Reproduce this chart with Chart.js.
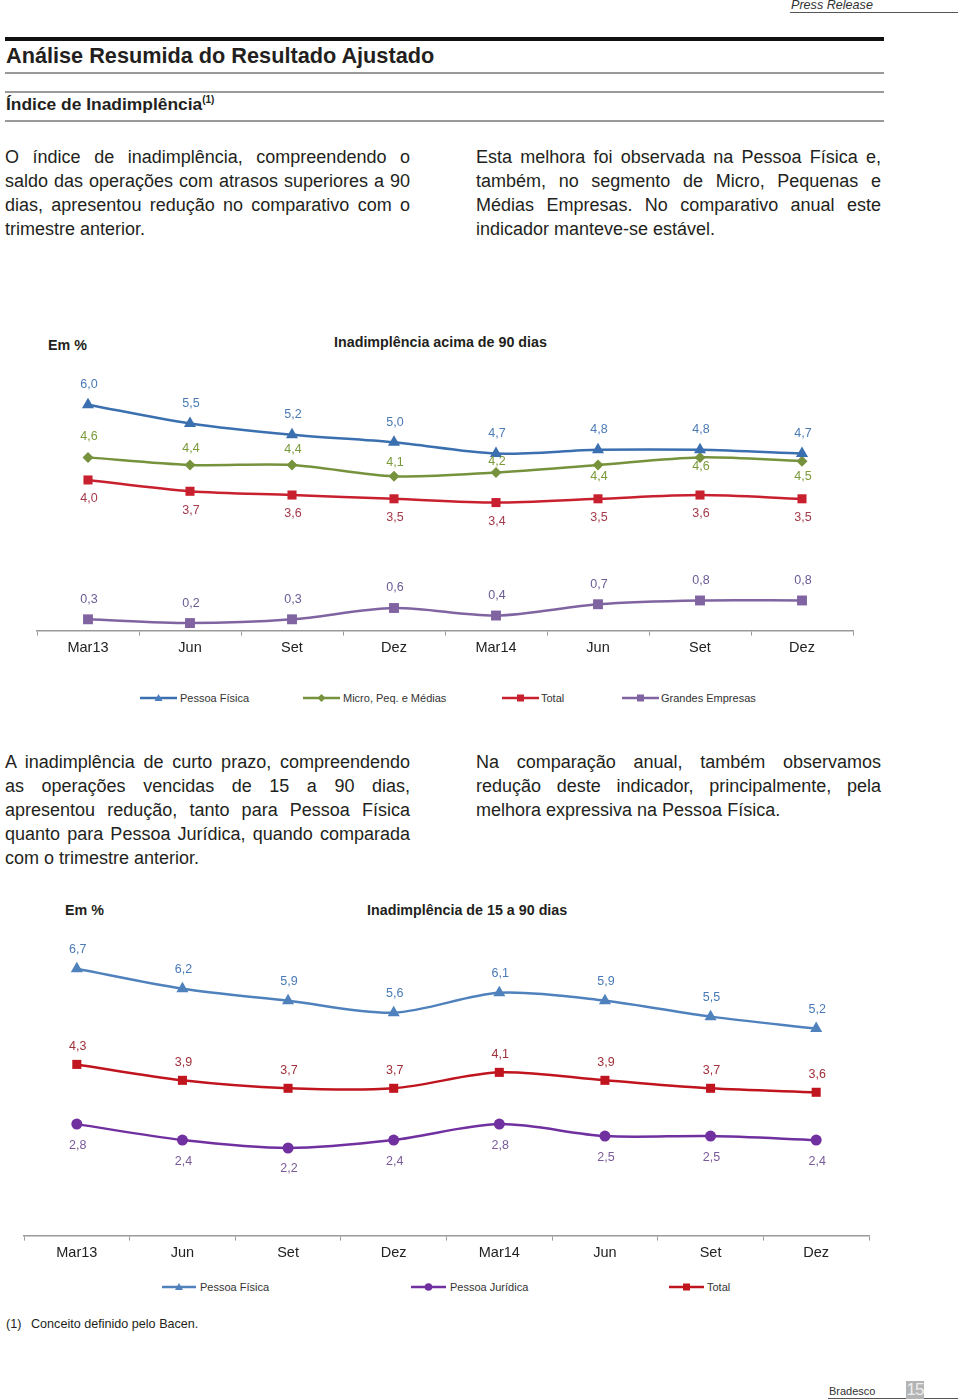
<!DOCTYPE html>
<html lang="pt">
<head>
<meta charset="utf-8">
<title>Índice de Inadimplência</title>
<script src="https://cdn.jsdelivr.net/npm/chart.js@4.4.1/dist/chart.umd.min.js"></script>
<style>
  body { margin: 0; width: 960px; height: 1400px; position: relative; background: #fff;
         font-family: "Liberation Sans", Arial, sans-serif; color: #231f20; overflow: hidden; }
  .abs { position: absolute; white-space: nowrap; }
  .regua { position: absolute; left: 5px; width: 879px; height: 2px; background: #9a9a9a; }
  .par { position: absolute; width: 405px; font-size: 18px; line-height: 24px; }
  .par div { text-align: justify; text-align-last: justify; white-space: nowrap; }
  .par div.ult { text-align-last: left; }
  .emp { font-weight: bold; font-size: 14.3px; line-height: 18px; }
  .leg { position: absolute; font-size: 11px; line-height: 12px; color: #333; white-space: nowrap; }
  .leg svg { position: absolute; top: 1px; }
  canvas { position: absolute; left: 0; }
</style>
</head>
<body>

<div class="abs" style="left:791px; top:-2px; font-size:12.6px; font-style:italic; color:#333;">Press Release</div>
<div class="abs" style="left:790px; top:12px; width:168px; height:1px; background:#555;"></div>

<div class="abs" style="left:5px; top:37px; width:879px; height:4px; background:#111;"></div>
<div class="abs" style="left:6px; top:43px; font-size:21.7px; line-height:26px; font-weight:bold;">Análise Resumida do Resultado Ajustado</div>
<div class="regua" style="top:72px;"></div>
<div class="regua" style="top:91px;"></div>
<div class="abs" style="left:6px; top:93px; font-size:17.4px; line-height:22px; font-weight:bold;">Índice de Inadimplência<span style="font-size:10px; position:relative; top:-7px;">(1)</span></div>
<div class="regua" style="top:120px;"></div>

<div class="par" style="left:5px; top:145px;">
  <div>O índice de inadimplência, compreendendo o</div>
  <div>saldo das operações com atrasos superiores a 90</div>
  <div>dias, apresentou redução no comparativo com o</div>
  <div class="ult">trimestre anterior.</div>
</div>
<div class="par" style="left:476px; top:145px;">
  <div>Esta melhora foi observada na Pessoa Física e,</div>
  <div>também, no segmento de Micro, Pequenas e</div>
  <div>Médias Empresas. No comparativo anual este</div>
  <div class="ult">indicador manteve-se estável.</div>
</div>

<div class="abs emp" style="left:48px; top:336px;">Em %</div>
<div class="abs emp" style="left:334px; top:333px;">Inadimplência acima de 90 dias</div>
<canvas id="graf90" width="960" height="301" style="top:360px;"></canvas>

<div class="leg" style="left:140px; top:692px;"><svg width="37" height="10"><line x1="0" y1="5" x2="37" y2="5" stroke="#3a6fb0" stroke-width="2.5"/><polygon points="18.5,1 22.5,8 14.5,8" fill="#4a7cc0"/></svg><span style="margin-left:40px;">Pessoa Física</span></div>
<div class="leg" style="left:303px; top:692px;"><svg width="37" height="10"><line x1="0" y1="5" x2="37" y2="5" stroke="#76923c" stroke-width="2.5"/><polygon points="18.5,1 22.5,5 18.5,9 14.5,5" fill="#76923c"/></svg><span style="margin-left:40px;">Micro, Peq. e Médias</span></div>
<div class="leg" style="left:502px; top:692px;"><svg width="37" height="10"><line x1="0" y1="5" x2="37" y2="5" stroke="#c8202e" stroke-width="2.5"/><rect x="15" y="1.5" width="7" height="7" fill="#c8202e"/></svg><span style="margin-left:39px;">Total</span></div>
<div class="leg" style="left:622px; top:692px;"><svg width="37" height="10"><line x1="0" y1="5" x2="37" y2="5" stroke="#8064a2" stroke-width="2.5"/><rect x="15" y="1.5" width="7" height="7" fill="#8064a2"/></svg><span style="margin-left:39px;">Grandes Empresas</span></div>

<div class="par" style="left:5px; top:750px;">
  <div>A inadimplência de curto prazo, compreendendo</div>
  <div>as operações vencidas de 15 a 90 dias,</div>
  <div>apresentou redução, tanto para Pessoa Física</div>
  <div>quanto para Pessoa Jurídica, quando comparada</div>
  <div class="ult">com o trimestre anterior.</div>
</div>
<div class="par" style="left:476px; top:750px;">
  <div>Na comparação anual, também observamos</div>
  <div>redução deste indicador, principalmente, pela</div>
  <div class="ult">melhora expressiva na Pessoa Física.</div>
</div>

<div class="abs emp" style="left:65px; top:901px;">Em %</div>
<div class="abs emp" style="left:367px; top:901px;">Inadimplência de 15 a 90 dias</div>
<canvas id="graf15" width="960" height="336" style="top:930px;"></canvas>

<div class="leg" style="left:162px; top:1281px;"><svg width="34" height="10"><line x1="0" y1="5" x2="34" y2="5" stroke="#4f81bd" stroke-width="2.5"/><polygon points="17,1 21,8 13,8" fill="#4f81bd"/></svg><span style="margin-left:38px;">Pessoa Física</span></div>
<div class="leg" style="left:411px; top:1281px;"><svg width="35" height="10"><line x1="0" y1="5" x2="35" y2="5" stroke="#7030a0" stroke-width="2.5"/><circle cx="17.5" cy="5" r="3.8" fill="#7030a0"/></svg><span style="margin-left:39px;">Pessoa Jurídica</span></div>
<div class="leg" style="left:669px; top:1281px;"><svg width="35" height="10"><line x1="0" y1="5" x2="35" y2="5" stroke="#c0141e" stroke-width="2.5"/><rect x="14" y="1.5" width="7" height="7" fill="#c0141e"/></svg><span style="margin-left:38px;">Total</span></div>

<div class="abs" style="left:6px; top:1316px; font-size:12.6px; line-height:16px;">(1)</div>
<div class="abs" style="left:31px; top:1316px; font-size:12.6px; line-height:16px;">Conceito definido pelo Bacen.</div>

<div class="abs" style="left:829px; top:1385px; font-size:11px; line-height:13px; color:#333;">Bradesco</div>
<div class="abs" style="left:828px; top:1398px; width:130px; height:1px; background:#555;"></div>
<div class="abs" style="left:906px; top:1381px; width:18px; height:18px; background:#b4b4b4; color:#eee; font-size:17px; line-height:18px; text-align:center; letter-spacing:-1px;">15</div>

<script>
const trimestres = ['Mar13', 'Jun', 'Set', 'Dez', 'Mar14', 'Jun', 'Set', 'Dez'];

// Inadimplência acima de 90 dias (%)
const pessoaFisica90 = [6.0, 5.5, 5.2, 5.0, 4.7, 4.8, 4.8, 4.7];
const microPeqMedias90 = [4.6, 4.4, 4.4, 4.1, 4.2, 4.4, 4.6, 4.5];
const total90 = [4.0, 3.7, 3.6, 3.5, 3.4, 3.5, 3.6, 3.5];
const grandesEmpresas90 = [0.3, 0.2, 0.3, 0.6, 0.4, 0.7, 0.8, 0.8];

// Inadimplência de 15 a 90 dias (%)
const pessoaFisica15 = [6.7, 6.2, 5.9, 5.6, 6.1, 5.9, 5.5, 5.2];
const pessoaJuridica15 = [2.8, 2.4, 2.2, 2.4, 2.8, 2.5, 2.5, 2.4];
const total15 = [4.3, 3.9, 3.7, 3.7, 4.1, 3.9, 3.7, 3.6];

const fonte = '"Liberation Sans", Arial, sans-serif';

// rótulos de valor desenhados junto de cada ponto
const rotulos = {
  id: 'rotulos',
  afterDatasetsDraw(chart) {
    const ctx = chart.ctx;
    chart.data.datasets.forEach((ds, i) => {
      const meta = chart.getDatasetMeta(i);
      ctx.save();
      ctx.font = '12.5px ' + fonte;
      ctx.fillStyle = ds.corRotulo;
      ctx.textAlign = 'center';
      ctx.textBaseline = 'middle';
      meta.data.forEach((pt, j) => {
        const dy = Array.isArray(ds.desloc) ? ds.desloc[j] : ds.desloc;
        ctx.fillText(ds.data[j].toFixed(1).replace('.', ','), pt.x + 1, pt.y + dy);
      });
      ctx.restore();
    });
  }
};

function serie(dados, cor, marcador, raio, corRotulo, desloc) {
  return {
    data: dados,
    borderColor: cor,
    backgroundColor: cor,
    borderWidth: 2.5,
    tension: 0.3,
    pointStyle: marcador,
    pointRadius: raio,
    pointBorderWidth: 0,
    clip: false,
    corRotulo: corRotulo,
    desloc: desloc
  };
}

function opcoes(maxY, padding) {
  return {
    responsive: false,
    animation: false,
    layout: { padding: padding },
    plugins: { legend: { display: false }, tooltip: { enabled: false } },
    scales: {
      x: {
        offset: true,
        grid: { offset: true, drawOnChartArea: false, drawTicks: true, tickLength: 5, color: '#9a9a9a', lineWidth: 1 },
        border: { display: true, color: '#9a9a9a', width: 1.5 },
        ticks: { color: '#222', padding: 4, font: { size: 14.5, family: fonte } }
      },
      y: { display: false, min: 0, max: maxY }
    }
  };
}

new Chart(document.getElementById('graf90'), {
  type: 'line',
  data: {
    labels: trimestres,
    datasets: [
      serie(pessoaFisica90, '#3a6fb0', 'triangle', 7, '#4a7ab5', -20),
      serie(microPeqMedias90, '#76923c', 'rectRot', 5.5, '#7a9a3a', [-21, -16, -15, -14, -11, 12, 9, 15]),
      serie(total90, '#c8202e', 'rect', 6.4, '#a33a4a', 19),
      serie(grandesEmpresas90, '#8064a2', 'rect', 7, '#6b5b95', -20)
    ]
  },
  options: opcoes(7, { left: 37, right: 107, top: 5, bottom: 0 }),
  plugins: [rotulos]
});

new Chart(document.getElementById('graf15'), {
  type: 'line',
  data: {
    labels: trimestres,
    datasets: [
      serie(pessoaFisica15, '#4f81bd', 'triangle', 7, '#4a7ab5', -19),
      serie(pessoaJuridica15, '#7030a0', 'circle', 5.5, '#7a5a9a', 21),
      serie(total15, '#c0141e', 'rect', 6.4, '#a0303a', -18)
    ]
  },
  options: opcoes(7.5, { left: 24, right: 91, top: 6, bottom: 0 }),
  plugins: [rotulos]
});
</script>
</body>
</html>
